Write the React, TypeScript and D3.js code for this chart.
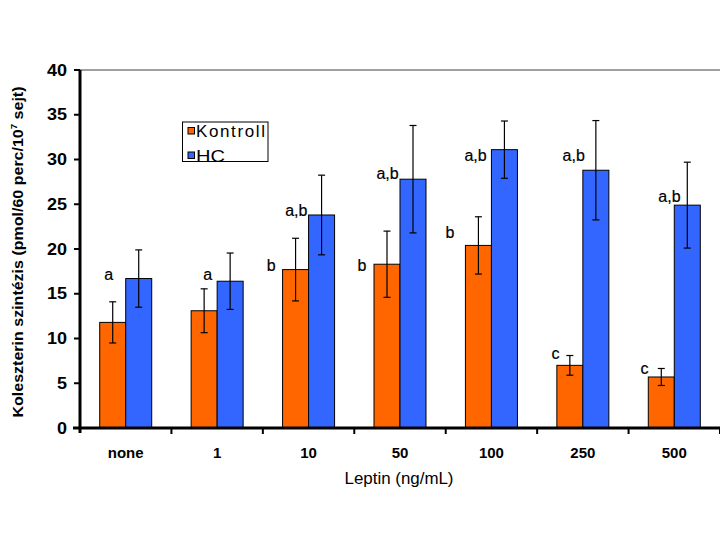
import React from "react";
import * as d3 from "d3";

const categories = ["none", "1", "10", "50", "100", "250", "500"];
const seriesNames = ["Kontroll", "HC"];
const kontroll = [11.8, 13.1, 17.7, 18.3, 20.4, 7.0, 5.7];
const kontrollErr = [2.3, 2.45, 3.5, 3.7, 3.2, 1.1, 0.95];
const hc = [16.7, 16.4, 23.8, 27.8, 31.1, 28.8, 24.9];
const hcErr = [3.2, 3.15, 4.45, 6.0, 3.2, 5.55, 4.8];
const yTicks = [0, 5, 10, 15, 20, 25, 30, 35, 40];

// significance annotations: category, text, value (height in data units), horizontal offset in px from category centre
const annCategory = ["none", "1", "10", "10", "50", "50", "100", "100", "250", "250", "500", "500"];
const annText = ["a", "a", "b", "a,b", "b", "a,b", "b", "a,b", "c", "a,b", "c", "a,b"];
const annValue = [17.17, 17.17, 18.2, 24.25, 18.2, 28.46, 21.8, 30.5, 8.35, 30.5, 6.6, 25.84];
const annOffset = [-16.9, -9.4, -37.3, -12.3, -38, -12.5, -41.4, -15.9, -27.4, -9.2, -29.8, -4.8];

const colors = ["#FF6600", "#3366FF"];
const FONT = "'Liberation Sans', Arial, sans-serif";

export default function App() {
  const W = 720, H = 540;
  const left = 80, right = 720, top = 70, bottom = 428;
  const x0 = d3.scaleBand<string>().domain(categories).range([left, right]).padding(0);
  const bw = x0.bandwidth();
  const x1 = d3.scaleBand<string>().domain(seriesNames).range([0, bw]).paddingInner(0).paddingOuter(0.758);
  const y = d3.scaleLinear().domain([0, 40]).range([bottom, top]);
  const values = [kontroll, hc];
  const errs = [kontrollErr, hcErr];
  const capW = 3.5;

  return (
    <svg width={W} height={H} style={{ position: "absolute", left: 0, top: 0, background: "#fff" }} fontFamily={FONT}>
      <rect x={0} y={0} width={W} height={H} fill="#fff" />
      {/* top gridline */}
      <line x1={left} x2={right} y1={y(40)} y2={y(40)} stroke="#808080" strokeWidth={1.5} />
      {/* bars */}
      {categories.map((c, i) =>
        seriesNames.map((s, j) => {
          const bx = (x0(c) as number) + (x1(s) as number);
          const v = values[j][i];
          return (
            <rect key={c + s} x={bx} y={y(v)} width={x1.bandwidth()} height={y(0) - y(v)}
              fill={colors[j]} stroke="#000" strokeWidth={1} />
          );
        })
      )}
      {/* error bars */}
      {categories.map((c, i) =>
        seriesNames.map((s, j) => {
          const cx = (x0(c) as number) + (x1(s) as number) + x1.bandwidth() / 2;
          const v = values[j][i];
          const e = errs[j][i];
          return (
            <g key={"e" + c + s} stroke="#000" strokeWidth={1.2}>
              <line x1={cx} x2={cx} y1={y(v + e)} y2={y(v - e)} />
              <line x1={cx - capW} x2={cx + capW} y1={y(v + e)} y2={y(v + e)} />
              <line x1={cx - capW} x2={cx + capW} y1={y(v - e)} y2={y(v - e)} />
            </g>
          );
        })
      )}
      {/* annotations */}
      {annText.map((t, k) => {
        const cx = (x0(annCategory[k]) as number) + bw / 2 + annOffset[k];
        return (
          <text key={"a" + k} x={cx} y={y(annValue[k]) + 5.5} textAnchor="middle" fontSize={16}
            fill="#000" stroke="#000" strokeWidth={0.2}>
            {t}
          </text>
        );
      })}
      {/* y axis */}
      <line x1={left} x2={left} y1={top} y2={bottom + 5} stroke="#000" strokeWidth={3} />
      {yTicks.map((t) => (
        <g key={"yt" + t}>
          <line x1={left - 6} x2={left} y1={y(t)} y2={y(t)} stroke="#000" strokeWidth={2} />
          <text x={67} y={y(t) + 5.5} textAnchor="end" fontSize={16} fontWeight="bold" fill="#000"
            textLength={t >= 10 ? 20 : 10} lengthAdjust="spacingAndGlyphs">
            {t}
          </text>
        </g>
      ))}
      {/* x axis */}
      <line x1={left - 7} x2={right} y1={bottom} y2={bottom} stroke="#000" strokeWidth={3} />
      {categories.map((c) => (
        <line key={"xt" + c} x1={(x0(c) as number) + bw} x2={(x0(c) as number) + bw} y1={bottom} y2={bottom + 6}
          stroke="#000" strokeWidth={2} />
      ))}
      {categories.map((c) => (
        <text key={"xl" + c} x={(x0(c) as number) + bw / 2} y={457.5} textAnchor="middle" fontSize={15}
          fontWeight="bold" fill="#000">
          {c}
        </text>
      ))}
      <text x={(left + right) / 2 - 1} y={484} textAnchor="middle" fontSize={16} fill="#000"
        textLength={109} lengthAdjust="spacingAndGlyphs">
        Leptin (ng/mL)
      </text>
      <text transform={`translate(23, ${(top + bottom) / 2 + 3}) rotate(-90)`} textAnchor="middle" fontSize={15}
        fontWeight="bold" fill="#000" textLength={331} lengthAdjust="spacingAndGlyphs">
        Koleszterin szintézis (pmol/60 perc/10
        <tspan dy={-6} fontSize={9}>7</tspan>
        <tspan dy={6}> sejt)</tspan>
      </text>
      {/* legend */}
      <rect x={182.5} y={122} width={85.5} height={39.5} fill="#fff" stroke="#000" strokeWidth={1} />
      {seriesNames.map((s, j) => (
        <g key={"lg" + s}>
          <rect x={188} y={127.5 + j * 24.5} width={6.5} height={6.5} fill={colors[j]} stroke="#000" strokeWidth={1} />
          <text x={196} y={137 + j * 24.5} fontSize={17} fill="#000"
            textLength={j === 0 ? 69 : 29} lengthAdjust={j === 0 ? "spacing" : "spacingAndGlyphs"}>
            {s}
          </text>
        </g>
      ))}
    </svg>
  );
}
